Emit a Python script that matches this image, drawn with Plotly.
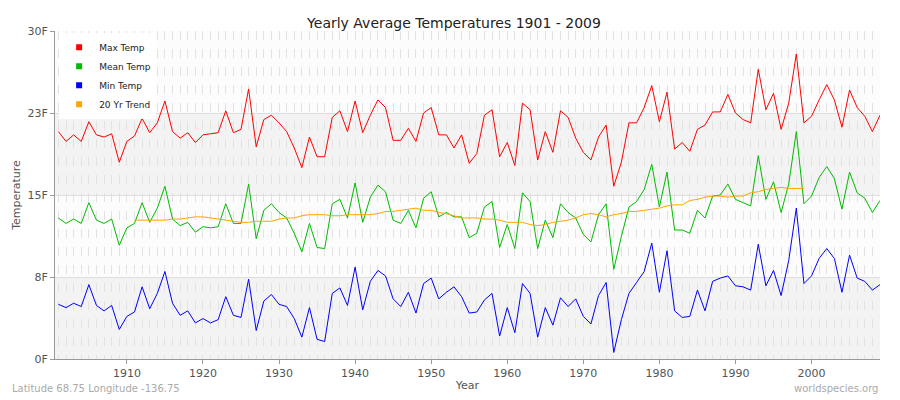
import plotly.graph_objects as go

years = list(range(1901, 2010))
max_temp = [20.8,19.9,20.5,19.9,21.7,20.5,20.3,20.6,18.0,19.9,20.4,22.0,20.7,21.6,23.6,20.8,20.2,20.7,19.8,20.5,
            20.6,20.7,22.7,20.7,21.0,24.7,19.4,21.9,22.3,21.6,20.8,19.3,17.5,20.3,18.5,18.5,22.1,22.7,20.8,23.6,
            20.7,22.3,23.7,23.0,20.0,20.0,21.1,19.9,22.5,23.0,20.5,20.5,19.3,20.5,17.9,18.8,22.3,22.8,18.5,19.8,
            17.7,23.4,22.8,18.2,20.8,18.9,22.7,22.1,20.2,18.9,18.2,20.3,21.4,15.8,18.0,21.6,21.6,23.0,25.0,21.7,
            24.4,19.2,19.8,19.0,21.0,21.4,22.6,22.6,24.2,22.5,21.9,21.6,26.5,22.8,24.3,21.0,23.4,27.9,21.6,22.2,
            23.7,25.1,23.7,21.2,24.6,23.0,22.2,20.8,22.3]
mean_temp = [12.9,12.4,12.8,12.4,14.3,12.7,12.4,12.8,10.4,12.0,12.4,14.3,12.5,13.8,15.8,12.8,12.2,12.5,11.6,12.1,
             12.0,12.1,14.2,12.4,12.4,16.0,11.0,13.6,14.2,13.4,12.9,11.5,9.8,12.4,10.2,10.1,14.2,14.6,12.9,16.1,
             12.5,14.8,15.9,15.3,12.7,12.4,13.6,12.0,14.7,15.3,13.0,13.4,13.0,13.0,11.1,11.5,13.9,14.4,10.2,12.3,
             10.1,15.2,14.4,10.1,12.7,11.1,14.2,13.4,12.9,11.4,10.7,13.2,14.2,8.2,11.2,13.9,14.4,15.5,17.8,13.9,
             17.1,11.8,11.8,11.5,13.6,12.9,14.9,15.0,16.0,14.6,14.3,14.0,18.6,14.6,16.2,13.4,16.0,20.8,14.2,14.9,
             16.6,17.6,16.5,13.7,17.1,15.2,14.7,13.4,14.5]
min_temp = [5.0,4.7,5.1,4.8,6.8,4.9,4.4,4.9,2.7,3.9,4.3,6.6,4.6,6.0,8.0,5.1,4.0,4.4,3.3,3.7,
            3.3,3.6,5.7,4.0,3.8,7.3,2.6,5.3,5.9,5.0,4.8,3.7,2.0,4.7,1.8,1.6,6.0,6.5,4.9,8.4,
            4.5,7.1,8.1,7.6,5.5,4.8,6.1,4.2,6.9,7.4,5.5,6.1,6.6,5.7,4.2,4.3,5.4,6.0,2.1,4.7,
            2.4,6.9,6.0,2.0,4.7,3.1,5.6,4.8,5.5,3.9,3.2,5.8,7.0,0.6,3.6,6.0,7.0,8.0,10.6,6.1,
            9.9,4.4,3.8,3.9,6.3,4.4,7.1,7.4,7.6,6.7,6.6,6.3,10.5,6.7,8.1,5.8,9.0,13.8,6.9,7.6,
            9.2,10.1,9.2,6.1,9.5,7.4,7.1,6.3,6.8]
trend_years = list(range(1911, 2000))
trend = [12.7,12.7,12.7,12.7,12.7,12.8,12.8,12.9,13.0,13.0,12.9,12.8,12.7,12.6,12.5,12.5,12.6,12.6,12.6,12.8,
         12.9,12.9,13.1,13.2,13.2,13.2,13.1,13.1,13.2,13.2,13.2,13.2,13.3,13.5,13.5,13.6,13.7,13.8,13.6,13.6,
         13.4,13.3,13.1,12.9,12.9,12.9,12.8,12.8,12.7,12.5,12.5,12.5,12.3,12.2,12.3,12.5,12.6,12.7,12.9,13.2,
         13.3,13.2,13.0,13.2,13.3,13.5,13.5,13.6,13.7,13.8,14.0,14.1,14.1,14.5,14.6,14.8,14.9,14.9,14.8,14.9,
         14.9,15.2,15.3,15.5,15.6,15.7,15.6,15.6,15.6]
y_ticks = [0, 7.5, 15, 22.5, 30]
y_labels = ["0F", "8F", "15F", "23F", "30F"]

series = [("Max Temp", years, max_temp, "#ff0000"),
          ("Mean Temp", years, mean_temp, "#00bb00"),
          ("Min Temp", years, min_temp, "#0000ff"),
          ("20 Yr Trend", trend_years, trend, "#ffa500")]

fig = go.Figure()
for name, xs, ys, c in series:
    fig.add_trace(go.Scatter(x=xs, y=ys, mode="lines", line=dict(color=c, width=1),
                             showlegend=False, name=name))
for name, xs, ys, c in series:
    fig.add_trace(go.Scatter(x=[None], y=[None], mode="markers", name=name,
                             marker=dict(symbol="square", size=6, color=c)))

for i in range(4):
    fig.add_shape(type="rect", xref="paper", yref="y", x0=0, x1=1,
                  y0=y_ticks[i], y1=y_ticks[i+1], layer="below", line_width=0,
                  fillcolor="#f3f3f3" if i % 2 == 0 else "#fcfcfc")

fig.update_layout(
    width=892, height=392, margin=dict(l=47, r=20, t=23, b=41),
    paper_bgcolor="white", plot_bgcolor="white",
    font=dict(family="DejaVu Sans", size=11, color="#555"),
    title=dict(text="Yearly Average Temperatures 1901 - 2009", x=0.5, y=0.975,
               xanchor="center", font=dict(size=14, color="#222")),
    legend=dict(x=0.005, y=0.995, bgcolor="rgba(255,255,255,0.9)", font=dict(size=9, color="#222"),
                itemwidth=30, tracegroupgap=0),
    xaxis=dict(range=[1900.55, 2009], tickvals=list(range(1910, 2010, 10)), showgrid=True, automargin=False,
               gridcolor="#e2e2e2", griddash="dash", showline=True, linecolor="#999",
               ticks="outside", ticklen=4, tickcolor="#999",
               minor=dict(dtick=1, tick0=1901, showgrid=True, gridcolor="#e2e2e2", griddash="dash"),
               title=dict(text="Year", standoff=2, font=dict(size=11, color="#555")), zeroline=False),
    yaxis=dict(range=[0, 30], tickvals=y_ticks, ticktext=y_labels, showgrid=True, gridcolor="#dddddd",
               automargin=False,
               showline=True, linecolor="#999", ticks="outside", ticklen=4, tickcolor="#999",
               title=dict(text="Temperature", standoff=4, font=dict(size=11, color="#555")), zeroline=False),
)
fig.add_annotation(text="Latitude 68.75 Longitude -136.75", xref="paper", yref="paper", x=-0.055, y=-0.113,
                   xanchor="left", yanchor="bottom", showarrow=False, font=dict(size=10, color="#aaa"))
fig.add_annotation(text="worldspecies.org", xref="paper", yref="paper", x=1.0, y=-0.113,
                   xanchor="right", yanchor="bottom", showarrow=False, font=dict(size=10, color="#aaa"))
fig.write_html("out.html")
